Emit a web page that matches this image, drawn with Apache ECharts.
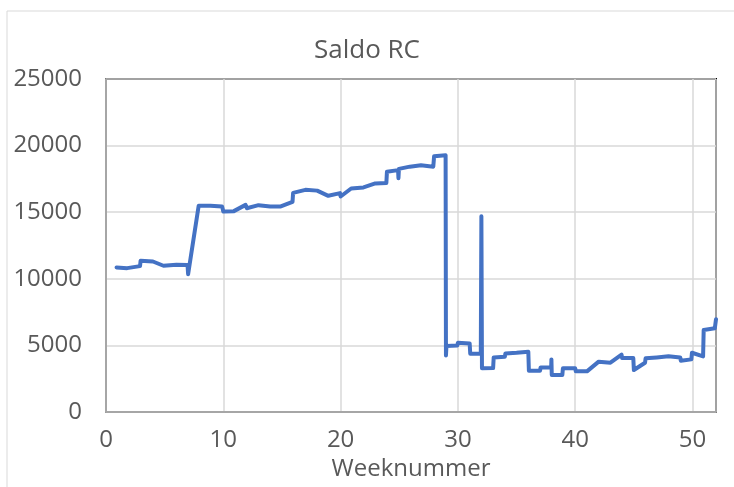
<!DOCTYPE html>
<html>
<head>
<meta charset="utf-8">
<script src="https://cdn.jsdelivr.net/npm/echarts@6/dist/echarts.min.js"></script>
<style>html,body{margin:0;padding:0;background:#fff}#c{width:734px;height:487px}</style>
</head>
<body>
<div id="c"></div>
<script>
var weeks = [0.9,1.8,1.9,2.9,2.95,4.0,4.9,6.0,6.95,7.0,7.9,8.9,9.9,10.0,10.9,11.9,12.0,13.0,14.0,14.9,15.9,15.95,17.0,18.0,18.95,19.95,20.0,20.9,21.95,22.95,23.9,23.95,24.9,24.93,24.97,25.9,26.85,26.9,26.95,27.9,27.93,27.97,28.95,28.98,29.02,29.95,30.0,31.0,31.05,31.95,32.0,32.05,33.0,33.05,34.0,34.05,35.0,35.05,36.0,36.05,37.0,37.02,37.05,37.95,37.97,38.0,38.9,38.95,40.0,40.05,41.0,42.0,43.0,43.95,44.0,44.95,45.0,45.95,46.0,46.95,47.95,48.0,48.95,49.0,49.9,49.95,50.9,50.95,51.9,52.0];
var saldo = [10850,10800,10920,10950,11350,11300,10980,11060,11040,10350,15480,15480,15420,15050,15080,15550,15300,15530,15430,15430,15780,16450,16680,16620,16230,16430,16180,16780,16860,17160,17200,18040,18160,17550,18250,18420,18520,18650,18520,18420,18300,19200,19280,4250,4950,5000,5200,5150,4380,4400,14700,3280,3300,4100,4150,4400,4450,4520,4530,3100,3100,2950,3350,3350,3950,2780,2780,3280,3280,3050,3050,3780,3700,4300,4050,4050,3150,3700,4030,4100,4180,4050,4100,3850,3950,4450,4180,6150,6280,6960];
var xTicks = [0,10,20,30,40,50];
var yTicks = [0,5000,10000,15000,20000,25000];

var pts = weeks.map(function(w,i){return [w, saldo[i]];});
var chart = echarts.init(document.getElementById('c'));
var font = 'Open Sans';
chart.setOption({
  animation:false,
  graphic:[{type:'rect',shape:{x:7,y:11,width:800,height:600},style:{fill:'none',stroke:'#d9d9d9',lineWidth:1},z:-10}],
  title:{text:'Saldo RC',left:'center',top:33,textStyle:{fontFamily:font,fontSize:26,fontWeight:'normal',color:'#595959'}},
  grid:{left:106,top:79,right:18,bottom:75,show:true,borderColor:'#000',borderWidth:2,backgroundColor:'transparent'},
  xAxis:{type:'value',min:0,max:52,interval:10,
    name:'Weeknummer',nameLocation:'middle',nameGap:45,
    nameTextStyle:{fontFamily:font,fontSize:24,color:'#595959'},
    axisLine:{show:true,lineStyle:{color:'#a6a6a6',width:2}},
    axisTick:{show:false},
    axisLabel:{fontFamily:font,fontSize:24,color:'#595959',margin:16,
      formatter:function(v){return xTicks.indexOf(v)>=0?String(v):'';}},
    splitLine:{show:true,lineStyle:{color:'#d9d9d9',width:1.5}}},
  yAxis:{type:'value',min:0,max:25000,interval:5000,
    axisLine:{show:true,lineStyle:{color:'#a6a6a6',width:2}},
    axisTick:{show:false},
    axisLabel:{fontFamily:font,fontSize:24,color:'#595959',margin:24,
      formatter:function(v){return yTicks.indexOf(v)>=0?String(v):'';}},
    splitLine:{show:true,lineStyle:{color:'#d9d9d9',width:1.5}}},
  series:[{type:'line',data:pts,showSymbol:false,clip:true,
    lineStyle:{color:'#4472C4',width:4,join:'round',cap:'round'}}]
});
</script>
</body>
</html>
